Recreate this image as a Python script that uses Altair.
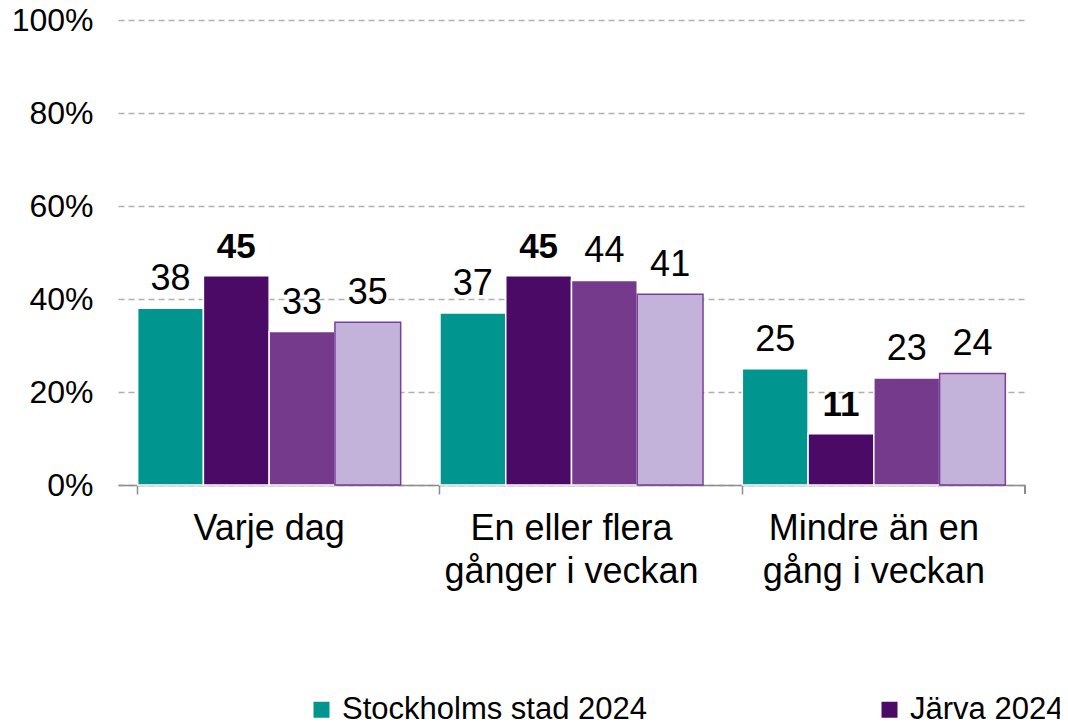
import altair as alt
import pandas as pd

categories = ["Varje dag", "En eller flera|gånger i veckan", "Mindre än en|gång i veckan"]
series = ["Stockholms stad 2024", "Järva 2024", "Järva 2022", "Järva 2020"]
values = {
    "Stockholms stad 2024": [38, 37, 25],
    "Järva 2024": [45, 45, 11],
    "Järva 2022": [33, 44, 23],
    "Järva 2020": [35, 41, 24],
}
colors = ["#00968F", "#4A0A66", "#763A8C", "#C3B2D9"]

rows = []
for s in series:
    for c, v in zip(categories, values[s]):
        rows.append({"category": c, "series": s, "value": v, "label": str(v)})
df = pd.DataFrame(rows)

FONT = "Liberation Sans"

x_enc = alt.X(
    "category:N",
    sort=categories,
    scale=alt.Scale(paddingInner=0.13, paddingOuter=0.065),
    axis=alt.Axis(
        title=None,
        labelAngle=0,
        labelFont=FONT,
        labelFontSize=36,
        labelColor="#000000",
        labelPadding=17,
        labelLineHeight=43,
        labelExpr="split(datum.label, '|')",
        bandPosition=0,
        grid=False,
        tickSize=9,
        tickColor="#8c8c8c",
        tickWidth=1.5,
        domainColor="#8c8c8c",
        domainWidth=1.5,
        labelLimit=400,
    ),
)
xoff = alt.XOffset("series:N", sort=series, scale=alt.Scale(paddingInner=0))
y_enc = alt.Y(
    "value:Q",
    scale=alt.Scale(domain=[0, 100]),
    axis=alt.Axis(
        title=None,
        values=[0, 20, 40, 60, 80, 100],
        labelExpr="datum.value + '%'",
        labelFont=FONT,
        labelFontSize=32,
        labelColor="#000000",
        labelPadding=25,
        tickSize=0,
        domain=False,
        gridColor="#b0b0b0",
        gridDash=[6, 4],
        gridWidth=1.3,
    ),
)

bars = alt.Chart(df).mark_bar(strokeWidth=1.5).encode(
    x=x_enc,
    xOffset=xoff,
    y=y_enc,
    color=alt.Color(
        "series:N",
        sort=series,
        scale=alt.Scale(domain=series, range=colors),
        legend=alt.Legend(
            title=None,
            values=["Stockholms stad 2024", "Järva 2024"],
            orient="none",
            direction="horizontal",
            legendX=188,
            legendY=674,
            labelFont=FONT,
            labelFontSize=31,
            labelColor="#000000",
            symbolType="square",
            symbolSize=256,
            symbolStrokeWidth=0,
            symbolOpacity=1,
            labelOffset=5,
            columnPadding=226,
            labelLimit=500,
        ),
    ),
    stroke=alt.condition(alt.datum.series == "Järva 2020", alt.value("#7B3F98"), alt.value("#ffffff")),
)

labels_normal = alt.Chart(df).transform_filter(alt.datum.series != "Järva 2024").mark_text(
    baseline="alphabetic", dy=-18, font=FONT, fontSize=36, color="#000000"
).encode(x=alt.X("category:N", sort=categories), xOffset=xoff, y="value:Q", text="label:N")

labels_bold = alt.Chart(df).transform_filter(alt.datum.series == "Järva 2024").mark_text(
    baseline="alphabetic", dy=-18, font=FONT, fontSize=35, fontWeight="bold", color="#000000"
).encode(x=alt.X("category:N", sort=categories), xOffset=xoff, y="value:Q", text="label:N")

end_tick = alt.Chart(df).mark_rule(color="#8c8c8c", strokeWidth=1.5).encode(
    x=alt.value(907), y=alt.value(465), y2=alt.value(474)
)

chart = (
    alt.layer(bars, labels_normal, labels_bold, end_tick)
    .properties(
        width=907,
        height=465,
        background="white",
        autosize=alt.AutoSizeParams(type="none"),
        padding={"left": 110, "top": 12, "right": 35, "bottom": 240},
    )
    .configure_view(stroke=None, strokeWidth=0)
)

chart.save("out.html", embed_options={"renderer": "svg", "actions": False})
